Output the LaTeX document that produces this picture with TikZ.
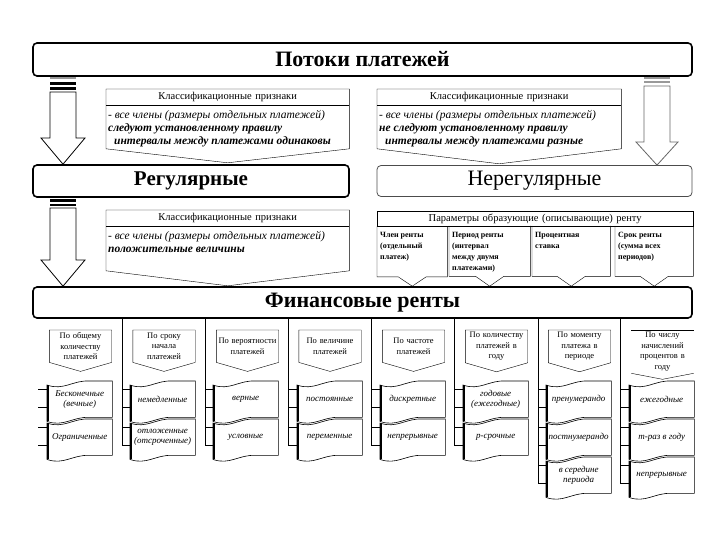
\documentclass[tikz,border=0pt]{standalone}
\usepackage{fontspec}
\setmainfont{Liberation Serif}
\usetikzlibrary{calc,positioning}

\newcommand\topbox[3]{\parbox[c][#2][t]{#1}{\raggedright\vspace*{3pt}#3}}
\newcommand\callout[3]{%
  \draw (#1.south west) -- (#1.south east);
  \draw (#2.south west) -- (#1.north west) -- (#1.north east) -- (#2.south east) -- ([yshift=-#3]#2.south) -- cycle;}
\newcommand\pcall[1]{%
  \draw (#1.north west) -- (#1.south west) -- ([xshift=-14pt]#1.south) -- (#1.south |- fin.north) -- ([xshift=14pt]#1.south) -- (#1.south east) -- (#1.north east);}
\newcommand\hcall[2]{%
  \draw (#1.south west) -- (#1.north west) -- (#1.north east) -- (#1.south east) -- ([yshift=-#2]#1.south) -- cycle;}
\newcommand\wave[1]{%
  \draw[wavy] let \p1=(#1.north west), \p2=(#1.south east), \n1={\x2-\x1} in
    (\x1,\y1-4pt) .. controls (\x1+0.25*\n1,\y1-10pt) and (\x1+0.4*\n1,\y1+1pt) .. (\x1+0.65*\n1,\y1) -- (\x2,\y1)
    -- (\x2,\y2) -- (\x1+0.65*\n1,\y2) .. controls (\x1+0.4*\n1,\y2+1pt) and (\x1+0.25*\n1,\y2-10pt) .. (\x1,\y2-4pt) -- cycle;
  \draw[line width=2.4pt] let \p1=(#1.north west), \p2=(#1.south west) in (\x1+1pt,\y1-4pt) -- (\x1+1pt,\y2-4pt);}
\newcommand\stubs[2]{%
  \path (#1.north west) ++(0,8) coordinate (#1u) (#1.south west) ++(0,-10) coordinate (#1l);
  \draw (#1u) -- (#1u -| #2) (#1l) -- (#1l -| #2);}

\begin{document}
\begin{tikzpicture}[x=1pt,y=-1pt,
    bigbox/.style={draw, line width=1.6pt, rounded corners=4pt, inner sep=0pt},
    hollow/.style={draw, fill=white, line width=0.8pt},
    ktitle/.style={anchor=north west, inner sep=2pt, minimum height=16pt, text width=239pt, align=center, font=\fontsize{10.5}{12}\selectfont},
    kbody/.style={anchor=north west, inner sep=2pt, font=\fontsize{11.5}{12.8}\selectfont\itshape},
    pcell/.style={anchor=north west, inner sep=3pt, font=\fontsize{8}{11}\selectfont\bfseries},
    hdr/.style={anchor=north, inner sep=2pt, text width=58pt, align=center, minimum height=32pt, font=\fontsize{8.5}{10.5}\selectfont},
    item/.style={anchor=north west, inner sep=0pt, minimum width=65pt, minimum height=36pt, align=center, font=\fontsize{9}{9.8}\selectfont\itshape},
    wavy/.style={draw, line width=0.6pt}]
\useasboundingbox (0,0) rectangle (720,540);

\node[bigbox, minimum width=659pt, minimum height=33pt, font=\fontsize{22}{24}\selectfont\bfseries] (flows) at (362.5,59.5) {Потоки платежей};
\node[bigbox, minimum width=316pt, minimum height=32pt, font=\fontsize{21}{22}\selectfont\bfseries] (reg) at (191,181) {Регулярные};
\node[bigbox, line width=0.8pt, draw=black!70, minimum width=315pt, minimum height=31pt, font=\fontsize{22}{22}\selectfont] (irreg) at (534.5,181) {Нерегулярные};
\node[bigbox, minimum width=659pt, minimum height=31pt, font=\fontsize{22}{22}\selectfont\bfseries] (fin) at (362.5,302.5) {Финансовые ренты};

\coordinate (a1) at (63,92);
\coordinate (a2) at (657,86);
\coordinate (a3) at (63,208);
\fill[black!40] (50,77) rectangle (76,79);
\fill (50,82) rectangle (76,85);
\fill (50,87) rectangle (76,90);
\draw[hollow] (50,92) -- (50,138) -- (41,138) -- (reg.north -| a1) -- (85,138) -- (76,138) -- (76,92) -- cycle;
\fill[black!40] (644,77) rectangle (670,79);
\fill[black!40] (644,81) rectangle (670,83);
\draw[hollow, draw=black!60] (644,86) -- (644,142) -- (636,142) -- (irreg.north -| a2) -- (678,142) -- (670,142) -- (670,86) -- cycle;
\fill (50,199) rectangle (76,202);
\fill (50,204) rectangle (76,206);
\draw[hollow] (50,208) -- (50,260) -- (41,260) -- (fin.north -| a3) -- (85,260) -- (76,260) -- (76,208) -- cycle;

\node[ktitle] (k1) at (106,89) {Классификационные признаки};
\node[kbody] (b1) at (k1.south west) {\topbox{239pt}{39pt}{- все члены (размеры отдельных платежей)\\ \textbf{следуют установленному правилу}\\ \hspace*{6pt}\textbf{интервалы между платежами одинаковы}}};
\callout{k1}{b1}{14pt}
\node[ktitle, text width=240pt] (k2) at (377,89) {Классификационные признаки};
\node[kbody] (b2) at (k2.south west) {\topbox{240pt}{39pt}{- все члены (размеры отдельных платежей)\\ \textbf{не следуют установленному правилу}\\ \hspace*{6pt}\textbf{интервалы между платежами разные}}};
\callout{k2}{b2}{15pt}
\node[ktitle] (k3) at (106,210) {Классификационные признаки};
\node[kbody] (b3) at (k3.south west) {\topbox{239pt}{40pt}{- все члены (размеры отдельных платежей)\\ \textbf{положительные величины}}};
\callout{k3}{b3}{15pt}

\node[ktitle, draw, text width=312pt, minimum height=15pt] (par) at (377,211) {Параметры образующие (описывающие) ренту};
\node[pcell] (p1) at (par.south west) {\topbox{64pt}{44pt}{Член ренты\\(отдельный\\платеж)}};
\node[pcell] (p2) at (449,226) {\topbox{75pt}{44pt}{Период ренты\\(интервал\\между двумя\\платежами)}};
\node[pcell] (p3) at (532,226) {\topbox{72pt}{44pt}{Процентная\\ставка}};
\node[pcell] (p4) at (615,226) {\topbox{72pt}{44pt}{Срок ренты\\(сумма всех\\периодов)}};
\pcall{p1} \pcall{p2} \pcall{p3} \pcall{p4}

\node[hdr] (h1) at (80.5,330) {По общему\\количеству\\платежей};
\node[hdr] (h2) at (164,330) {По сроку\\начала\\платежей};
\node[hdr] (h3) at (247.5,330) {По вероятности\\платежей};
\node[hdr] (h4) at (330,330) {По величине\\платежей};
\node[hdr] (h5) at (413.5,330) {По частоте\\платежей};
\node[hdr] (h6) at (496.5,330) {По количеству\\платежей в\\году};
\node[hdr] (h7) at (579.5,330) {По моменту\\платежа в\\периоде};
\node[hdr] (h8) at (662.5,330) {По числу\\начислений\\процентов в\\году};
\hcall{h1}{9pt} \hcall{h2}{9pt} \hcall{h3}{9pt} \hcall{h4}{9pt}
\hcall{h5}{9pt} \hcall{h6}{9pt} \hcall{h7}{9pt}
\draw (h8.north west) -- (h8.north east);
\draw (h8.south west) -- ([yshift=-6pt]h8.south) -- (h8.south east);

\coordinate (l1) at (38,318);
\coordinate (l2) at (122,318);
\coordinate (l3) at (205,318);
\coordinate (l4) at (288,318);
\coordinate (l5) at (371,318);
\coordinate (l6) at (454,318);
\coordinate (l7) at (538,318);
\coordinate (l8) at (620,318);

\node[item] (c1a) at (47,381) {Бесконечные\\(вечные)};
\node[item] (c1b) at (47,419) {Ограниченные};
\node[item] (c2a) at (130,381) {немедленные};
\node[item] (c2b) at (130,419) {отложенные\\(отсроченные)};
\node[item] (c3a) at (213,381) {верные};
\node[item] (c3b) at (213,419) {условные};
\node[item] (c4a) at (297,381) {постоянные};
\node[item] (c4b) at (297,419) {переменные};
\node[item] (c5a) at (380,381) {дискретные};
\node[item] (c5b) at (380,419) {непрерывные};
\node[item] (c6a) at (463,381) {годовые\\(ежегодные)};
\node[item] (c6b) at (463,419) {р-срочные};
\node[item] (c7a) at (546,381) {пренумерандо};
\node[item] (c7b) at (546,419) {постнумерандо};
\node[item] (c7c) at (546,457) {в середине\\периода};
\node[item] (c8a) at (629,381) {ежегодные};
\node[item] (c8b) at (629,419) {m-раз в году};
\node[item] (c8c) at (629,457) {непрерывные};

\wave{c1a} \wave{c1b} \wave{c2a} \wave{c2b} \wave{c3a} \wave{c3b}
\wave{c4a} \wave{c4b} \wave{c5a} \wave{c5b} \wave{c6a} \wave{c6b}
\wave{c7a} \wave{c7b} \wave{c7c} \wave{c8a} \wave{c8b} \wave{c8c}

\stubs{c1a}{l1} \stubs{c1b}{l1}
\stubs{c2a}{l2} \stubs{c2b}{l2}
\stubs{c3a}{l3} \stubs{c3b}{l3}
\stubs{c4a}{l4} \stubs{c4b}{l4}
\stubs{c5a}{l5} \stubs{c5b}{l5}
\stubs{c6a}{l6} \stubs{c6b}{l6}
\stubs{c7a}{l7} \stubs{c7b}{l7} \stubs{c7c}{l7}
\stubs{c8a}{l8} \stubs{c8b}{l8} \stubs{c8c}{l8}

\draw (fin.south -| l2) -- (l2 |- c2bl);
\draw (fin.south -| l3) -- (l3 |- c3bl);
\draw (fin.south -| l4) -- (l4 |- c4bl);
\draw (fin.south -| l5) -- (l5 |- c5bl);
\draw (fin.south -| l6) -- (l6 |- c6bl);
\draw (fin.south -| l7) -- (l7 |- c7cl);
\draw (fin.south -| l8) -- (l8 |- c8cl);
\end{tikzpicture}
\end{document}
